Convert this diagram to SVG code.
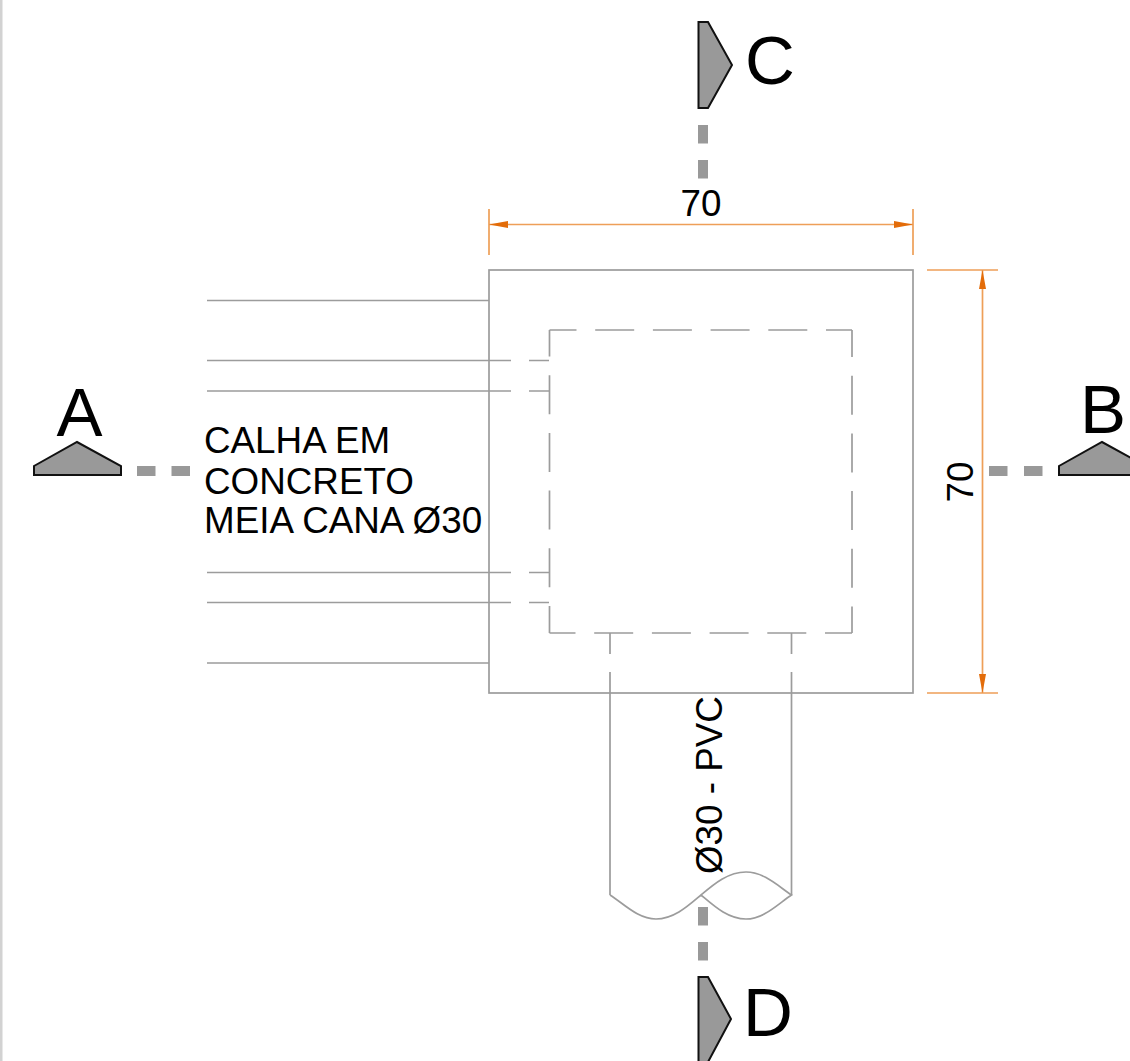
<svg xmlns="http://www.w3.org/2000/svg" width="1130" height="1061" viewBox="0 0 1130 1061">
<style>
text{font-family:"Liberation Sans",Arial,sans-serif;fill:#000}
.big{font-size:69px}
.lbl{font-size:36.8px}
.ln{fill:none;stroke:#9c9c9c;stroke-width:1.7}
.dsh{fill:none;stroke:#9c9c9c;stroke-width:1.7;stroke-dasharray:39 18.7;stroke-dashoffset:12}
.dim{fill:none;stroke:#ee9f58;stroke-width:1.7}
.arr{fill:#e36c09;stroke:none}
.mk{fill:#999;stroke:#111;stroke-width:2;stroke-linejoin:miter}
.cut{fill:#999;stroke:none}
</style>
<rect width="1130" height="1061" fill="#fff"/>
<rect x="0" y="0" width="2.5" height="1061" fill="#d2d2d2"/>
<g id="connectors">
<path class="ln" d="M207 300.500H489M207 360.500H511M529 360.500H549M207 391H511M529 391H549M207 572.500H511M529 572.500H549M207 602.500H511M529 602.500H549M207 663H489"/>
<path class="ln" d="M610 633V654M610 672V895M791.500 633V654M791.500 672V895"/>
<path class="ln" d="M610 895C624 904 638 919 656 919C674 919 688 906 701 895C714 884 728 872 746 872C764 872 778 886 791.500 895C778 904 764 919 746 919C728 919 714 906 701 895"/>
</g>
<g id="tank">
<rect class="ln" x="489" y="270" width="424" height="423"/>
<path class="dsh" d="M549.500 330H852"/>
<path class="dsh" d="M852 330V633"/>
<path class="dsh" d="M852 633H549.500"/>
<path class="dsh" d="M549.500 633V330"/>
</g>
<g id="dim-horizontal">
<path class="dim" d="M489 209V255M913 209V255M489 224.500H913"/>
<path class="arr" d="M489 224.500L508 221V228ZM913 224.500L894 221V228Z"/>
<text class="lbl" x="701" y="216" text-anchor="middle">70</text>
</g>
<g id="dim-vertical">
<path class="dim" d="M927 270H998M927 693H998M982.500 270V693"/>
<path class="arr" d="M982.500 270L979 289H986ZM982.500 693L979 674H986Z"/>
<text class="lbl" transform="translate(973 482) rotate(-90)" text-anchor="middle">70</text>
</g>
<g id="label-calha">
<text class="lbl" x="204" y="453">CALHA EM</text>
<text class="lbl" x="204" y="494">CONCRETO</text>
<text class="lbl" x="204" y="533">MEIA CANA Ø30</text>
</g>
<g id="label-pvc">
<text class="lbl" transform="translate(722 874) rotate(-90)">Ø30 - PVC</text>
</g>
<g id="section-a">
<path class="mk" d="M34 466L77 442L121 466V475H34Z"/>
<rect class="cut" x="137" y="466" width="18.500" height="10"/>
<rect class="cut" x="171.500" y="466" width="18.500" height="10"/>
<text class="big" x="79.500" y="436" text-anchor="middle">A</text>
</g>
<g id="section-b">
<path class="mk" d="M1059 466L1102 442L1146 466V475H1059Z"/>
<rect class="cut" x="989" y="466" width="18.500" height="10"/>
<rect class="cut" x="1024" y="466" width="18.500" height="10"/>
<text class="big" x="1103" y="433" text-anchor="middle">B</text>
</g>
<g id="section-c">
<path class="mk" d="M698.500 22H708L732 65L708 108H698.500Z"/>
<rect class="cut" x="698" y="125" width="10" height="18.500"/>
<rect class="cut" x="698" y="160" width="10" height="18.500"/>
<text class="big" x="745" y="84">C</text>
</g>
<g id="section-d">
<path class="mk" d="M698.500 977H708L731 1019L708 1062H698.500Z"/>
<rect class="cut" x="698" y="907" width="10" height="18.500"/>
<rect class="cut" x="698" y="942" width="10" height="18.500"/>
<text class="big" x="743" y="1036">D</text>
</g>
</svg>
